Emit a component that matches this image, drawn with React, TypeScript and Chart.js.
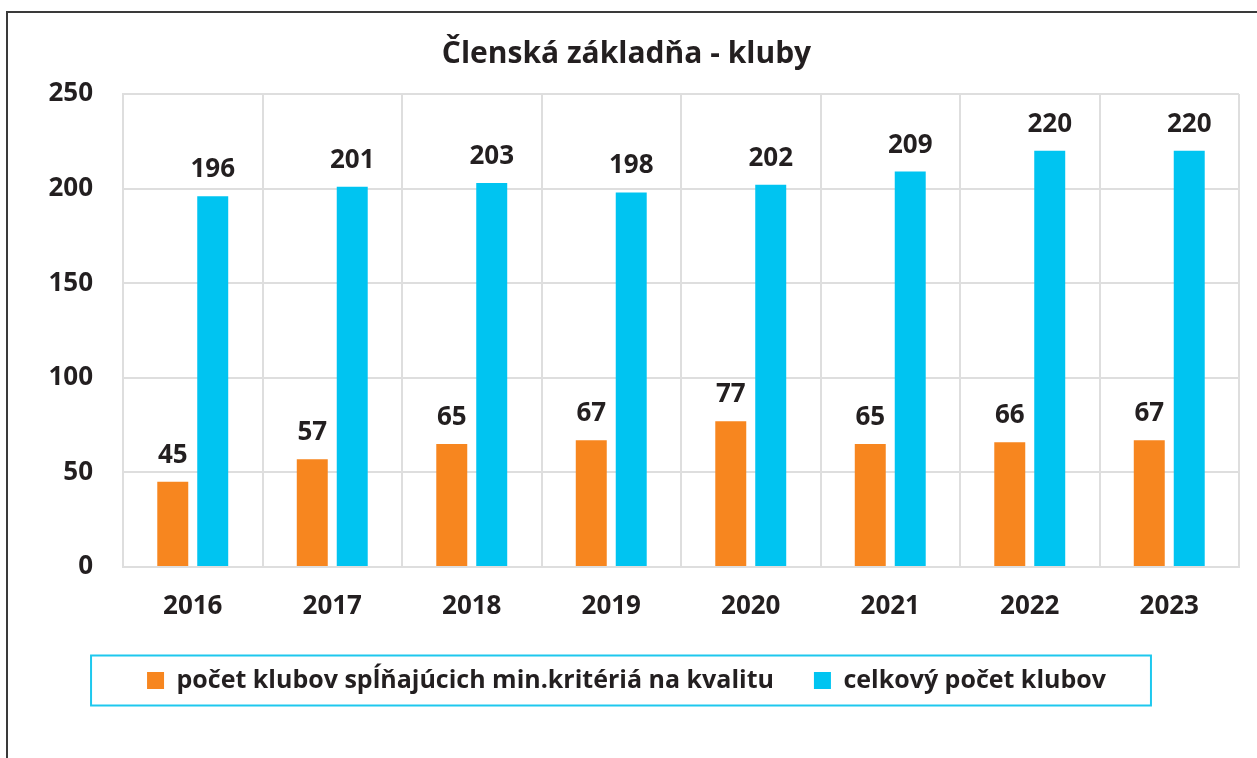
import React, { useEffect, useRef } from "react";
import { Chart, registerables } from "chart.js";

Chart.register(...registerables);

const years = ["2016", "2017", "2018", "2019", "2020", "2021", "2022", "2023"];
const qualityClubs = [45, 57, 65, 67, 77, 65, 66, 67];
const totalClubs = [196, 201, 203, 198, 202, 209, 220, 220];
const seriesLabels = ["počet klubov spĺňajúcich min.kritériá na kvalitu", "celkový počet klubov"];
const chartTitle = "Členská základňa - kluby";

const FONT = "'Open Sans', 'Noto Sans', sans-serif";
const TEXT = "#231f20";
const ORANGE = "#F7861F";
const CYAN = "#00C4F1";

const valueLabels = {
  id: "valueLabels",
  afterDatasetsDraw(chart: any) {
    const ctx = chart.ctx;
    ctx.save();
    ctx.font = `bold 26px ${FONT}`;
    ctx.fillStyle = TEXT;
    ctx.textAlign = "center";
    ctx.textBaseline = "alphabetic";
    chart.data.datasets.forEach((ds: any, i: number) => {
      const meta = chart.getDatasetMeta(i);
      meta.data.forEach((el: any, j: number) => {
        ctx.fillText(String(ds.data[j]), el.x, el.y - 19);
      });
    });
    ctx.restore();
  },
};

const legendBox = {
  id: "legendBox",
  afterDraw(chart: any) {
    const lg = chart.legend;
    if (!lg || !lg.legendHitBoxes || !lg.legendHitBoxes.length) return;
    const boxes = lg.legendHitBoxes;
    let l = Infinity, r = -Infinity, t = Infinity, b = -Infinity;
    boxes.forEach((h: any) => {
      l = Math.min(l, h.left);
      r = Math.max(r, h.left + h.width);
      t = Math.min(t, h.top);
      b = Math.max(b, h.top + h.height);
    });
    const ctx = chart.ctx;
    ctx.save();
    ctx.strokeStyle = "#1EC8EE";
    ctx.lineWidth = 2;
    const cy = (t + b) / 2;
    ctx.strokeRect(l - 56, cy - 25, r - l + 101, 50);
    ctx.restore();
  },
};

export default function App() {
  const ref = useRef<HTMLCanvasElement>(null);
  useEffect(() => {
    if (!ref.current) return;
    const chart = new Chart(ref.current, {
      type: "bar",
      data: {
        labels: years,
        datasets: [
          {
            label: seriesLabels[0],
            data: qualityClubs,
            backgroundColor: ORANGE,
            barPercentage: 0.775,
            categoryPercentage: 0.573,
          },
          {
            label: seriesLabels[1],
            data: totalClubs,
            backgroundColor: CYAN,
            barPercentage: 0.775,
            categoryPercentage: 0.573,
          },
        ],
      },
      options: {
        responsive: false,
        animation: false,
        layout: { padding: { top: 36, left: 14, right: 18, bottom: 55 } },
        plugins: {
          title: {
            display: true,
            text: chartTitle,
            color: TEXT,
            font: { family: FONT, size: 30, weight: "bold" },
            padding: { top: 0, bottom: 22 },
          },
          legend: {
            position: "bottom",
            labels: {
              color: TEXT,
              font: { family: FONT, size: 25, weight: "bold" },
              boxWidth: 17,
              boxHeight: 17,
              padding: 40,
            },
          },
          tooltip: { enabled: false },
        },
        scales: {
          x: {
            afterFit: (s: any) => {
              s.height = 61;
            },
            grid: { color: "#dedede", lineWidth: 2, drawTicks: false, offset: true },
            border: { color: "#dedede", width: 2 },
            ticks: {
              color: TEXT,
              font: { family: FONT, size: 26, weight: "bold" },
              padding: 24,
            },
          },
          y: {
            min: 0,
            max: 250,
            afterFit: (s: any) => {
              s.width = 109;
            },
            grid: { color: "#dedede", lineWidth: 2, drawTicks: false },
            border: { color: "#dedede", width: 2 },
            ticks: {
              stepSize: 50,
              color: TEXT,
              font: { family: FONT, size: 26, weight: "bold" },
              padding: 30,
            },
          },
        },
      },
      plugins: [valueLabels, legendBox],
    });
    return () => chart.destroy();
  }, []);

  return (
    <>
      <div
        style={{
          position: "fixed",
          left: 6,
          top: 11,
          width: 1400,
          height: 900,
          borderLeft: "2px solid #3a3a3a",
          borderTop: "2px solid #3a3a3a",
        }}
      />
      <canvas
        ref={ref}
        width={1257}
        height={758}
        style={{ position: "fixed", left: 0, top: 0, width: 1257, height: 758 }}
      />
    </>
  );
}
